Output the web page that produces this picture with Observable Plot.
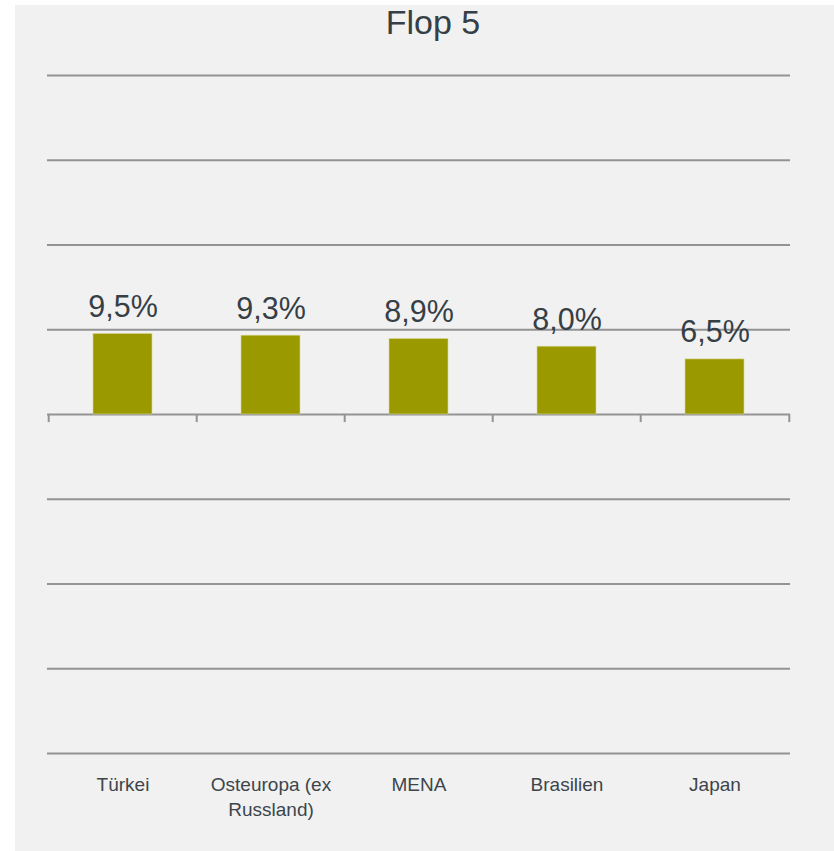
<!DOCTYPE html>
<html>
<head>
<meta charset="utf-8">
<script src="https://cdn.jsdelivr.net/npm/d3@7"></script>
<script src="https://cdn.jsdelivr.net/npm/@observablehq/plot@0.6"></script>
<style>
  html, body { margin: 0; padding: 0; background: #ffffff; }
  #wrap { position: relative; width: 834px; height: 851px; overflow: hidden; }
  #panel { position: absolute; left: 15px; top: 5px; width: 819px; height: 846px; background: #f1f1f1; }
  #title { position: absolute; left: 0; width: 866px; top: 3px; text-align: center;
    font-family: "Liberation Sans Narrow", "Arial Narrow", sans-serif; font-size: 34px; color: #363f45; }
  #chart { position: absolute; left: 0; top: 0; }
</style>
</head>
<body>
<div id="wrap">
  <div id="panel"></div>
  <div id="title">Flop 5</div>
  <div id="chart"></div>
</div>
<script>
const categories = ["Türkei", "Osteuropa (ex Russland)", "MENA", "Brasilien", "Japan"];
const values = [9.5, 9.3, 8.9, 8.0, 6.5];
const valueLabels = ["9,5%", "9,3%", "8,9%", "8,0%", "6,5%"];
const gridTicks = [-40, -30, -20, -10, 0, 10, 20, 30, 40];

const data = categories.map((c, i) => ({category: c, value: values[i], label: valueLabels[i]}));

const W = 834, H = 851;
const mL = 47, mR = 44, mT = 75, mB = 98;
const step = (W - mL - mR) / categories.length;
const font = "'Liberation Sans Narrow', 'Arial Narrow', sans-serif";

const chart = Plot.plot({
  width: W,
  height: H,
  marginLeft: mL,
  marginRight: mR,
  marginTop: mT,
  marginBottom: mB,
  style: {fontFamily: font, background: "transparent", overflow: "visible"},
  x: {domain: categories, paddingInner: 0.6, paddingOuter: 0.3},
  y: {domain: [-40, 40], axis: null},
  marks: [
    Plot.ruleY(gridTicks, {stroke: "#939393", strokeWidth: 2}),
    Plot.ruleX(categories, {x: d => d, dx: -step / 2, y1: 0, y2: -0.95, stroke: "#939393", strokeWidth: 2}),
    Plot.ruleX(categories.slice(-1), {x: d => d, dx: step / 2, y1: 0, y2: -0.95, stroke: "#939393", strokeWidth: 2}),
    Plot.barY(data, {x: "category", y: "value", fill: "#9a9900", stroke: "#d8d890", strokeWidth: 0.6}),
    Plot.text(data, {x: "category", y: "value", text: "label", dy: -17, lineAnchor: "bottom",
      fontSize: 30.5, fill: "#363f45"}),
    Plot.axisX({anchor: "bottom", tickSize: 0, tickPadding: 20, fontSize: 19, lineHeight: 1.3,
      fill: "#3d454b", label: null,
      tickFormat: d => d.replace("(ex ", "(ex\n")})
  ]
});
document.getElementById("chart").appendChild(chart);
</script>
</body>
</html>
